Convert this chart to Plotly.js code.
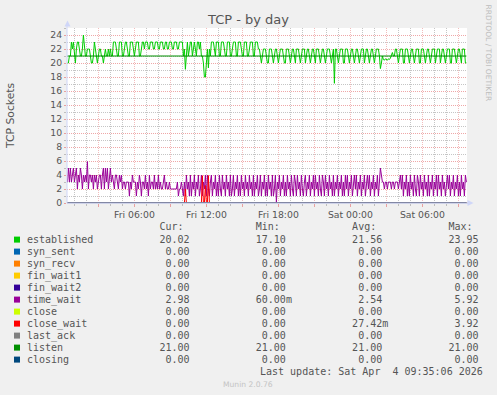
<!DOCTYPE html>
<html><head><meta charset="utf-8">
<script src="https://cdn.plot.ly/plotly-3.0.1.min.js"></script>
<style>html,body{margin:0;padding:0;background:#F0F0F0;overflow:hidden}#chart{width:497px;height:395px}
.gridlayer path,.minor-gridlayer path{shape-rendering:crispEdges}</style>
</head><body><div id="chart"></div>
<script>
// ---- sampling (5-minute samples) ----
const sampleStart = '2026-04-03T00:25:00Z';
const sampleStepMinutes = 5;
const xRange = ['2026-04-03 00:23', '2026-04-04 09:43'];

// ---- series values ----
const established = [
20,20,21,21,23,22,23,21,20,22,23,23,22,21,21,22,24,22,21,21,22,22,22,21,20,20,21,23,22,21,20,21,22,22,21,21,20,21,22,21,21,22,21,22,21,
21,23,23,23,22,21,21,23,23,23,21,21,22,23,23,22,21,21,23,23,23,22,21,22,23,23,23,21,21,22,23,23,
22,23,23,23,22,22,23,23,23,22,22,23,23,23,22,22,23,23,23,22,22,23,23,22,22,23,23,23,22,22,23,23,23,22,22,23,23,
23,23,21,22,19.1,22,23,21,22,23,23,21,22,23,22,21,23,23,22,23,21,21,20,18,18,20,22,19.3,22,
21,23,23,23,22,21,23,23,23,21,21,23,23,23,22,21,21,23,23,23,21,21,22,23,23,23,21,21,23,23,23,22,21,21,23,23,23,21,21,22,23,23,23,21,21,23,23,23,
22,22,21,20,21,22,22,22,21,20,20,22,22,22,21,20,21,22,22,21,20,21,22,22,22,21,20,20,22,22,22,21,20,21,22,22,21,20,22,22,22,21,20,21,22,22,22,20,21,22,22,21,20,21,22,22,21,20,22,22,22,21,20,21,22,22,21,20,21,22,22,22,21,20,21,22,
17.1,
22,22,21,20,21,22,22,22,20,20,22,22,22,21,20,21,22,22,21,20,21,22,22,21,20,21,22,22,22,20,21,22,22,21,20,21,22,22,21,20,21,22,22,
22,21,19.2,20,21,
20.5,20.4,20.6,20.5,20.4,20.6,20.5,20.7,21,21.5,21,
21,22,22,21,20,21,22,22,22,20,20,22,22,22,21,20,21,22,22,21,20,21,22,22,22,20,20,22,22,22,21,20,21,22,22,21,20,21,22,22,22,20,21,22,22,22,20,21,22,22,21,20,21,22,22,22,20,20,22,22,22,21,20,21,22,22,21,20,22,22,22,20,20.02
];
const timeWait = [
3,5,3,5,3,4,5,3,4,5,2,4,3,5,4,2,4,3,4,3,5.92,2,4,4,3,4,2,4,3,4,2,3,4,4,2,4,5,2,5,3,5,2,4,5,3,4,3,2,4,4,3,2,4,3,4,2,
3,3,2,3,3,3,1,3,2,4,3,3,3,1,3,2,4,3,1,3,3,2,4,2,3,1,4,2,3,3,2,4,2,3,2,4,2,3,2,2,3,4,2,3,2,2,3,2,2,2,2,2,2,2,3,1,2,2,3,2,1,
3,1,4,2,3,1,4,1,3,2,4,1,3,2,4,1,2,4,1,3,2,4,1,4,2,1,3,4,1,3,2,4,1,3,1,4,2,1,4,2,3,1,4,2,3,1,4,1,2,4,1,3,2,4,1,3,1,4,2,3,1,4,2,3,
1,4,2,3,1,4,1,3,2,4,1,2,4,1,3,2,4,1,3,1,4,2,3,1,4,1,2,4,0.06,3,2,4,1,3,2,4,1,3,1,4,2,3,1,4,2,1,4,3,1,4,2,3,1,4,2,1,3,4,1,3,2,4,1,3,2,4,1,4,2,3,1,4,2,1,4,3,1,4,2,3,1,4,2,3,1,4,1,3,2,4,1,3,2,4,1,3,1,4,2,4,1,3,2,4,1,3,4,2,4,1,3,2,4,1,3,2,4,1,3,4,2,4,1,3,2,4,1,3,2,4,1,3,
5,
4,3,3,2,3,3,2,3,3,3,2,3,3,2,3,3,3,2,3,4,
2,4,1,3,2,4,1,3,1,4,2,3,1,4,2,1,4,3,1,4,2,3,1,4,2,3,1,4,1,3,2,4,1,3,2,4,1,4,2,3,1,4,2,3,1,3,4,2,4,1,3,2,4,1,3,2,4,1,3,1,4,2,3,1,4,2.98
];
// sparse series: sample index -> value
const closeWaitIdx = [0, 117, 118, 119, 134, 135, 136, 137, 138, 139, 140, 141, 142, 399];
const closeWaitVal = [0, 0, 2, 0, 0, 3.9, 0, 0, 2.5, 0, 0, 3.92, 0, 0];
const listenIdx = [0, 399];
const listenVal = [21, 21];
const zeroIdx = [0, 399];
const zeroVal = [0, 0];

// ---- legend table ----
const seriesNames  = ['established','syn_sent','syn_recv','fin_wait1','fin_wait2','time_wait','close','close_wait','last_ack','listen','closing'];
const seriesColors = ['#00CC00','#0066B3','#FF8000','#FFCC00','#330099','#990099','#CCFF00','#FF0000','#808080','#008F00','#00487D'];
const curText = ['20.02','0.00','0.00','0.00','0.00','2.98','0.00','0.00','0.00','21.00','0.00'];
const minText = ['17.10','0.00','0.00','0.00','0.00','60.00m','0.00','0.00','0.00','21.00','0.00'];
const avgText = ['21.56','0.00','0.00','0.00','0.00','2.54','0.00','27.42m','0.00','21.00','0.00'];
const maxText = ['23.95','0.00','0.00','0.00','0.00','5.92','0.00','3.92','0.00','21.00','0.00'];
const colHeads = ['Cur:','Min:','Avg:','Max:'];

// ---- axis ticks ----
const tickTimes = ['2026-04-03 03:00','2026-04-03 06:00','2026-04-03 09:00','2026-04-03 12:00','2026-04-03 15:00','2026-04-03 18:00','2026-04-03 21:00','2026-04-04 00:00','2026-04-04 03:00','2026-04-04 06:00','2026-04-04 09:00'];
const tickText  = ['','Fri 06:00','','Fri 12:00','','Fri 18:00','','Sat 00:00','','Sat 06:00',''];

// ---- build ----
const t0 = Date.parse(sampleStart);
const tAt = i => new Date(t0 + i * sampleStepMinutes * 60000).toISOString().slice(0,19).replace('T',' ');
const fullX = established.map((_, i) => tAt(i));
const sparseX = idx => idx.map(tAt);

// minor grid positions: every hour that is not a major (3-hour) line; every odd value on y
const dayStart = Date.parse('2026-04-03T00:00:00Z');
const minorXTicks = [];
for (let h = 1; h <= 33; h++) if (h % 3) minorXTicks.push(new Date(dayStart + h * 3600000).toISOString().slice(0,16).replace('T',' '));
const minorYTicks = [];
for (let v = 1; v <= 25; v += 2) minorYTicks.push(v);

const seriesData = {
  established: {x: fullX, y: established},
  syn_sent: {x: sparseX(zeroIdx), y: zeroVal},
  syn_recv: {x: sparseX(zeroIdx), y: zeroVal},
  fin_wait1: {x: sparseX(zeroIdx), y: zeroVal},
  fin_wait2: {x: sparseX(zeroIdx), y: zeroVal},
  time_wait: {x: fullX, y: timeWait},
  close: {x: sparseX(zeroIdx), y: zeroVal},
  close_wait: {x: sparseX(closeWaitIdx), y: closeWaitVal},
  last_ack: {x: sparseX(zeroIdx), y: zeroVal},
  listen: {x: sparseX(listenIdx), y: listenVal},
  closing: {x: sparseX(zeroIdx), y: zeroVal}
};

const traces = seriesNames.map((n, k) => ({
  type: 'scatter', mode: 'lines', name: n,
  x: seriesData[n].x, y: seriesData[n].y,
  line: {color: seriesColors[k], width: 1}, hoverinfo: 'skip'
}));

const W = 497, H = 395;
const M = {l: 67, r: 30, t: 28, b: 192};
const PW = W - M.l - M.r, PH = H - M.t - M.b;
const px2x = p => (p - M.l) / PW;
const py2y = p => (M.t + PH - p) / PH;

const NB = '\u00A0';
function rowLine(name, vals) {
  let s = name;
  const ends = [27, 43, 59, 75];
  vals.forEach((v, j) => {
    let num = v, suf = '';
    if (/[a-zA-Z]$/.test(v)) { num = v.slice(0, -1); suf = v.slice(-1); }
    const start = ends[j] - num.length;
    while (s.length < start) s += ' ';
    s += num + suf;
  });
  return s.replace(/ /g, NB);
}
function headLine() {
  let s = '';
  const ends = [27, 43, 59, 75];
  colHeads.forEach((h, j) => { const start = ends[j] - 5; while (s.length < start) s += ' '; s += h; });
  return s.replace(/ /g, NB);
}

const textColor = '#555555';
const monoFont = {family: "'DejaVu Sans Mono', monospace", size: 10, color: textColor};
const textX = 26.7;
const rowY0 = 239.6, rowStep = 12.0;

const annotations = [];
const ann = (o) => annotations.push(Object.assign({xref: 'paper', yref: 'paper', showarrow: false, borderpad: 0, borderwidth: 0}, o));

ann({x: px2x(textX), y: py2y(226.8), xanchor: 'left', yanchor: 'middle', text: headLine(), font: monoFont});
seriesNames.forEach((n, k) => {
  ann({x: px2x(textX), y: py2y(rowY0 + k * rowStep), xanchor: 'left', yanchor: 'middle',
       text: rowLine(n, [curText[k], minText[k], avgText[k], maxText[k]]), font: monoFont});
});
ann({x: px2x(482.8), y: py2y(371.2), xanchor: 'right', yanchor: 'middle',
     text: 'Last update: Sat Apr  4 09:35:06 2026'.replace(/ /g, NB), font: monoFont});
ann({x: px2x(248), y: py2y(384.5), xanchor: 'center', yanchor: 'middle', text: 'Munin 2.0.76',
     font: {family: 'DejaVu Sans', size: 7.6, color: '#C4C4C4'}});
ann({x: px2x(10.5), y: py2y(115.5), xanchor: 'center', yanchor: 'middle', text: 'TCP Sockets', textangle: -90,
     font: {family: 'DejaVu Sans', size: 10.8, color: textColor}});
ann({x: px2x(488.5), y: py2y(53), xanchor: 'center', yanchor: 'middle', text: 'RRDTOOL / TOBI OETIKER', textangle: 90,
     font: {family: 'DejaVu Sans', size: 7.5, color: '#BDBDBD'}});

const shapes = [];
seriesColors.forEach((c, k) => {
  const cy = rowY0 + k * rowStep;
  shapes.push({type: 'rect', xref: 'paper', yref: 'paper', x0: px2x(14), x1: px2x(20), y0: py2y(cy + 3), y1: py2y(cy - 3),
               fillcolor: c, line: {width: 0}});
});
const axisCol = '#CFD6F8';
const axisColX = '#AEB6E4';
shapes.push({type: 'line', xref: 'paper', yref: 'paper', x0: 0, x1: 0, y0: 0, y1: py2y(26), line: {color: axisCol, width: 1}, layer: 'above'});
shapes.push({type: 'line', xref: 'paper', yref: 'paper', x0: 0, x1: px2x(468), y0: 0, y1: 0, line: {color: axisColX, width: 1}, layer: 'above'});
const P = (a, b) => px2x(a) + ',' + py2y(b);
shapes.push({type: 'path', xref: 'paper', yref: 'paper', path: 'M ' + P(64.5, 26.5) + ' L ' + P(70.5, 26.5) + ' L ' + P(67.5, 20.5) + ' Z',
             fillcolor: axisCol, line: {width: 0}, layer: 'above'});
shapes.push({type: 'path', xref: 'paper', yref: 'paper', path: 'M ' + P(467.5, 200) + ' L ' + P(467.5, 206) + ' L ' + P(473.5, 203) + ' Z',
             fillcolor: axisCol, line: {width: 0}, layer: 'above'});

const mgridX = 'rgba(225,95,95,0.42)';
const mgridY = 'rgba(225,95,95,0.55)';
const grid = 'rgba(150,150,150,0.55)';
const tickFont = {family: 'DejaVu Sans', size: 9.3, color: textColor};

const layout = {
  width: W, height: H, margin: M,
  paper_bgcolor: '#F0F0F0', plot_bgcolor: '#FFFFFF',
  showlegend: false,
  title: {text: 'TCP - by day', font: {family: 'DejaVu Sans', size: 13, color: textColor},
          x: 0.5, xref: 'container', xanchor: 'center', y: 1 - 19 / H, yref: 'container', yanchor: 'middle'},
  xaxis: {
    type: 'date', range: xRange, fixedrange: true,
    tickmode: 'array', tickvals: tickTimes, ticktext: tickText,
    showgrid: true, gridcolor: mgridX, griddash: '1px,1px', gridwidth: 1,
    ticks: 'outside', ticklen: 3, tickcolor: mgridY, tickwidth: 1,
    tickfont: tickFont, showline: false, zeroline: false,
    minor: {tickmode: 'array', tickvals: minorXTicks, showgrid: true, gridcolor: grid,
            griddash: '1px,1px', ticks: 'outside', ticklen: 2, tickcolor: grid}
  },
  yaxis: {
    range: [0, 25], fixedrange: true,
    tickmode: 'linear', tick0: 0, dtick: 2,
    showgrid: true, gridcolor: mgridY, griddash: '1px,1px', gridwidth: 1,
    ticks: 'outside', ticklen: 2, tickcolor: mgridY,
    tickfont: tickFont, showline: false, zeroline: false,
    minor: {tickmode: 'array', tickvals: minorYTicks, showgrid: true, gridcolor: grid, griddash: '1px,1px',
            ticks: 'outside', ticklen: 2, tickcolor: grid}
  },
  annotations: annotations,
  shapes: shapes
};

Plotly.newPlot('chart', traces, layout, {staticPlot: true, displayModeBar: false});
</script>
</body></html>
